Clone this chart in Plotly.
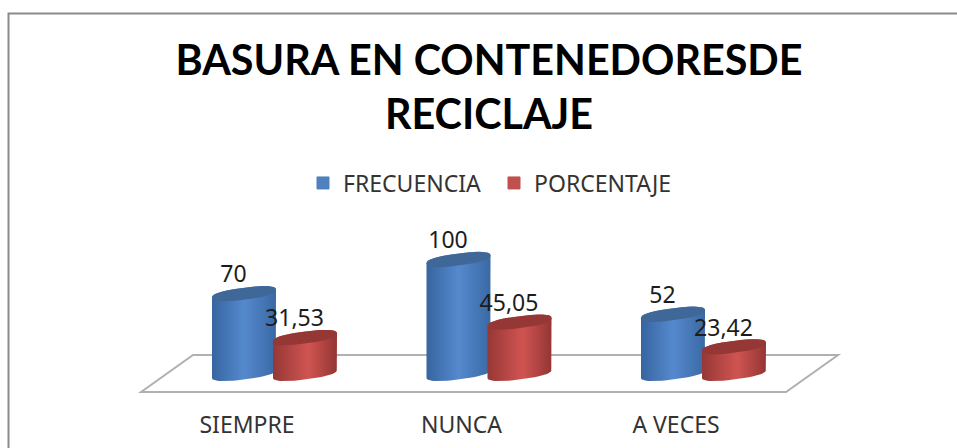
import math
import plotly.graph_objects as go

categories = ["SIEMPRE", "NUNCA", "A VECES"]
frecuencia = [70, 100, 52]
porcentaje = [31.53, 45.05, 23.42]
title_lines = ["BASURA EN CONTENEDORESDE", "RECICLAJE"]

W, H = 957, 448
PX_X = 214.5          # pixels per category
PX_Y = 1.14           # pixels per value unit
X0_PX = 247           # pixel of first category tick
Y0_PX = 373.5         # pixel of value zero
MB = 39
xr = [(0 - X0_PX) / PX_X, (W - X0_PX) / PX_X]
yr = [(Y0_PX - (H - MB)) / PX_Y, Y0_PX / PX_Y]

GROUP_SHIFT = 27.5 / PX_X
BAR_DX = 30.5 / PX_X
RX = 32 / PX_X
RY = 6 / PX_Y
SHEAR = 4 / PX_Y
E = 0.8               # roundness of the ellipses
N = 48

def sp(v):
    return math.copysign(abs(v) ** E, v)

def top_ellipse(cx, v):
    ts = [2 * math.pi * i / N for i in range(N + 1)]
    return ([cx + RX * sp(math.cos(t)) for t in ts],
            [v + SHEAR * sp(math.cos(t)) + RY * sp(math.sin(t)) for t in ts])

def body(cx, v):
    xs, ys = [], []
    for i in range(N // 2 + 1):
        t = math.pi * i / (N // 2)
        xs.append(cx - RX * sp(math.cos(t)))
        ys.append(v - SHEAR * sp(math.cos(t)) + RY * sp(math.sin(t)))
    for i in range(N // 2 + 1):
        t = math.pi * i / (N // 2)
        xs.append(cx + RX * sp(math.cos(t)))
        ys.append(SHEAR * sp(math.cos(t)) - RY * sp(math.sin(t)))
    xs.append(xs[0]); ys.append(ys[0])
    return xs, ys

series = [
    ("FRECUENCIA", frecuencia, -BAR_DX, "#4F81BD", "#3F6797",
     [[0, "#36659F"], [0.5, "#5589CE"], [1, "#3A69A4"]]),
    ("PORCENTAJE", porcentaje, BAR_DX, "#C0504D", "#953735",
     [[0, "#953836"], [0.55, "#D05451"], [1, "#933634"]]),
]

fig = go.Figure()

for name, vals, dx, col, _, _ in series:
    fig.add_bar(x=[i + GROUP_SHIFT + dx for i in range(3)], y=vals, name=name,
                width=48 / PX_X, marker=dict(color=col, line=dict(width=1, color=col)),
                hoverinfo="skip")

for i in range(3):
    for name, vals, dx, col, topc, scale in series:
        cx = i + GROUP_SHIFT + dx
        bx, by = body(cx, vals[i])
        fig.add_scatter(x=bx, y=by, mode="lines", fill="toself", line=dict(width=0, color=col),
                        fillgradient=dict(type="horizontal", colorscale=scale),
                        showlegend=False, hoverinfo="skip")
        ex, ey = top_ellipse(cx, vals[i])
        fig.add_scatter(x=ex, y=ey, mode="lines", fill="toself", line=dict(width=0, color=topc),
                        fillcolor=topc, showlegend=False, hoverinfo="skip")

for name, vals, dx, *_ in series:
    fig.add_scatter(x=[i + GROUP_SHIFT + dx - 10.5 / PX_X for i in range(3)],
                    y=[v + 17 / PX_Y for v in vals],
                    mode="text", text=[f"{v:g}".replace(".", ",") for v in vals],
                    textposition="middle center",
                    textfont=dict(family="Noto Sans", size=23, color="#1c1c1c"),
                    showlegend=False, hoverinfo="skip")

# floor
fl = 16.2
fx = [-0.494, 2.513]
back = 52 / PX_X
fig.add_shape(type="path", xref="x", yref="y", layer="below",
              path=f"M {fx[0]},{-fl} L {fx[0]+back},{fl} L {fx[1]+back},{fl} L {fx[1]},{-fl} Z",
              line=dict(color="#B0B0B0", width=2), fillcolor="white")
# chart frame (runs off the picture at right and bottom)
fig.add_shape(type="path", xref="paper", yref="paper", layer="below",
              path=f"M {8.5/W},{-MB/(H-MB)} L {8.5/W},{1-13.5/(H-MB)} L 1,{1-13.5/(H-MB)}",
              line=dict(color="#8A8A8A", width=2))

fig.update_layout(
    width=W, height=H, margin=dict(l=0, r=0, t=0, b=MB),
    paper_bgcolor="white", plot_bgcolor="rgba(0,0,0,0)",
    barmode="overlay",
    title=dict(text="<br>".join(title_lines), x=489 / W, xanchor="center",
               y=1 - 75 / H, yanchor="top",
               font=dict(family="Lato", size=41.3, color="#000000", weight="bold")),
    legend=dict(orientation="h", x=494 / W, xanchor="center",
                y=1 - 183 / (H - MB), yanchor="middle",
                font=dict(family="Noto Sans", size=23, color="#333333"),
                entrywidth=146, entrywidthmode="pixels",
                bgcolor="rgba(0,0,0,0)", traceorder="normal"),
    xaxis=dict(range=xr, tickmode="array", tickvals=[0, 1, 2], ticktext=categories,
               showgrid=False, zeroline=False, showline=False, ticks="",
               tickfont=dict(family="Noto Sans", size=23, color="#333333")),
    yaxis=dict(range=yr, visible=False, showgrid=False, zeroline=False),
)

fig.write_html("out.html", config={"displayModeBar": False},
               post_script="document.body.style.margin='0';")
